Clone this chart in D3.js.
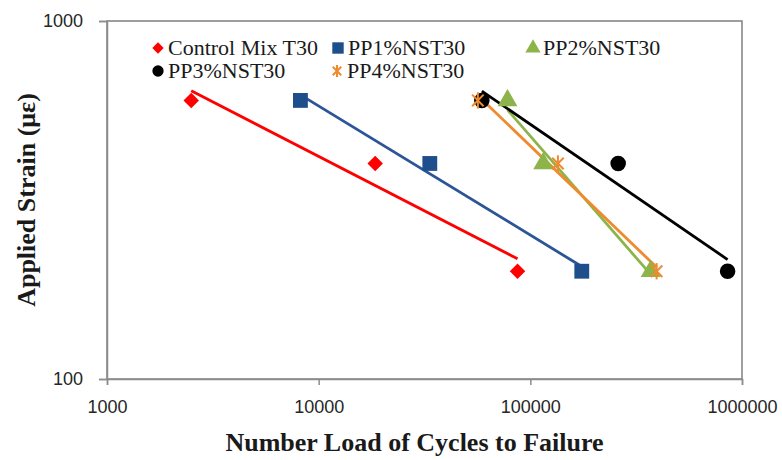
<!DOCTYPE html>
<html>
<head>
<meta charset="utf-8">
<script src="https://cdn.jsdelivr.net/npm/d3@7"></script>
<style>
  body { margin: 0; background: #fff; }
  svg { display: block; }
</style>
</head>
<body>
<svg id="chart" width="782" height="460"></svg>
<script>
// strain levels (µε) shared by every mix
const strains = [600, 400, 200];

// cycles to failure
const controlMix = [2500, 18500, 87000];
const pp1 = [8200, 33500, 175000];
const pp2 = [78000, 115000, 370000];
const pp3 = [59000, 260000, 855000];
const pp4 = [56500, 135000, 395000];

const seriesNames = ["Control Mix T30", "PP1%NST30", "PP2%NST30", "PP3%NST30", "PP4%NST30"];
const xTicks = [1000, 10000, 100000, 1000000];
const yTicks = [100, 1000];

const series = [
  {name: seriesNames[0], cycles: controlMix, color: "#ff0000", sym: "diamond"},
  {name: seriesNames[1], cycles: pp1, color: "#1f4e8c", sym: "square"},
  {name: seriesNames[2], cycles: pp2, color: "#8db44a", sym: "triangle"},
  {name: seriesNames[3], cycles: pp3, color: "#000000", sym: "circle"},
  {name: seriesNames[4], cycles: pp4, color: "#f08a2e", sym: "star"}
];

const svg = d3.select("#chart");
const pLeft = 107, pRight = 742, pTop = 21, pBottom = 379;

const x = d3.scaleLog().domain([1000, 1000000]).range([pLeft, pRight]);
const y = d3.scaleLog().domain([100, 1000]).range([pBottom, pTop]);

// plot frame
svg.append("rect")
  .attr("x", pLeft).attr("y", pTop)
  .attr("width", pRight - pLeft).attr("height", pBottom - pTop)
  .attr("fill", "none").attr("stroke", "#7f7f7f").attr("stroke-width", 1.5);

// x axis
const xAxis = svg.append("g")
  .attr("transform", `translate(0,${pBottom})`)
  .call(d3.axisBottom(x).tickValues(xTicks).tickFormat(d3.format("d")).tickSize(6).tickPadding(15));
xAxis.select(".domain").attr("stroke", "#8c8c8c").attr("stroke-width", 1.5);
xAxis.selectAll(".tick line").attr("stroke", "#8c8c8c").attr("stroke-width", 1.5);
xAxis.selectAll("text")
  .attr("font-family", "Liberation Sans, Arial, sans-serif")
  .attr("font-size", 18).attr("fill", "#262626");

// y axis
const yAxis = svg.append("g")
  .attr("transform", `translate(${pLeft},0)`)
  .call(d3.axisLeft(y).tickValues(yTicks).tickFormat(d3.format("d")).tickSize(8).tickPadding(16));
yAxis.select(".domain").attr("stroke", "#8c8c8c").attr("stroke-width", 1.5);
yAxis.selectAll(".tick line").attr("stroke", "#8c8c8c").attr("stroke-width", 1.5);
yAxis.selectAll("text")
  .attr("font-family", "Liberation Sans, Arial, sans-serif")
  .attr("font-size", 18).attr("fill", "#262626");

// power trendline, fitted the way the spreadsheet does it (log-log least squares)
function powerFit(xs, ys) {
  const lx = xs.map(Math.log), ly = ys.map(Math.log);
  const mx = d3.mean(lx), my = d3.mean(ly);
  const b = d3.sum(lx, (v, i) => (v - mx) * (ly[i] - my)) / d3.sum(lx, v => (v - mx) * (v - mx));
  const a = my - b * mx;
  return v => Math.exp(a + b * Math.log(v));
}

const lineLayer = svg.append("g");
const markLayer = svg.append("g");

const symType = {
  diamond: d3.symbolSquare, square: d3.symbolSquare,
  triangle: d3.symbolTriangle, circle: d3.symbolCircle
};

function drawMarker(g, s, px, py, size) {
  if (s.sym === "star") {
    // X with a vertical bar, like the spreadsheet's star marker
    const r = Math.sqrt(size) * 0.55;
    const m = g.append("g").attr("transform", `translate(${px},${py})`);
    [0, 45, 135].forEach(a => {
      const rad = a * Math.PI / 180;
      m.append("line")
        .attr("x1", -r * Math.sin(rad)).attr("y1", -r * Math.cos(rad))
        .attr("x2", r * Math.sin(rad)).attr("y2", r * Math.cos(rad))
        .attr("stroke", s.color).attr("stroke-width", 2);
    });
  } else {
    const rot = s.sym === "diamond" ? " rotate(45)" : "";
    g.append("path")
      .attr("transform", `translate(${px},${py})${rot}`)
      .attr("d", d3.symbol().type(symType[s.sym]).size(size)())
      .attr("fill", s.color);
  }
}

series.forEach(s => {
  const f = powerFit(s.cycles, strains);
  const ext = d3.extent(s.cycles);
  lineLayer.append("line")
    .attr("x1", x(ext[0])).attr("y1", y(f(ext[0])))
    .attr("x2", x(ext[1])).attr("y2", y(f(ext[1])))
    .attr("stroke", s.sym === "square" ? "#2b5597" : s.color)
    .attr("stroke-width", 2.8);

  const sz = {diamond: 120, square: 220, triangle: 170, circle: 190, star: 220}[s.sym];
  s.cycles.forEach((c, i) => drawMarker(markLayer, s, x(c), y(strains[i]), sz));
});

// legend
const legendPos = [[158, 48], [338, 48], [533, 48], [158, 71], [337, 71]];
const legend = svg.append("g");
series.forEach((s, i) => {
  const [lx, ly] = legendPos[i];
  const sz = {diamond: 65, square: 130, triangle: 100, circle: 100, star: 120}[s.sym];
  drawMarker(legend, s, lx, ly, sz);
  legend.append("text")
    .attr("x", lx + 10).attr("y", ly + 7)
    .attr("font-family", "Liberation Serif, Times New Roman, serif")
    .attr("font-size", 22).attr("fill", "#1a1a1a")
    .text(s.name);
});

// axis titles
svg.append("text")
  .attr("x", (pLeft + pRight) / 2 - 10).attr("y", 451)
  .attr("text-anchor", "middle")
  .attr("font-family", "Liberation Serif, Times New Roman, serif")
  .attr("font-weight", "bold").attr("font-size", 26).attr("fill", "#1a1a1a")
  .text("Number Load of Cycles to Failure");

svg.append("text")
  .attr("transform", "translate(35,200) rotate(-90)")
  .attr("text-anchor", "middle")
  .attr("font-family", "Liberation Serif, Times New Roman, serif")
  .attr("font-weight", "bold").attr("font-size", 26).attr("fill", "#1a1a1a")
  .text("Applied Strain (με)");
</script>
</body>
</html>
